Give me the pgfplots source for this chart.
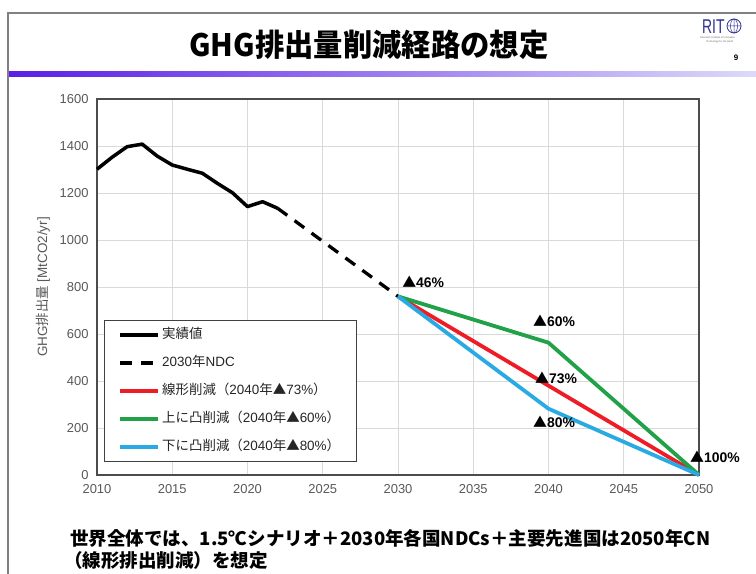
\documentclass[border=0pt]{standalone}
\usepackage{pgfplots}
\pgfplotsset{compat=1.18}
\usepackage{fontspec}
\setmainfont{Liberation Sans}
\newfontfamily\jp{Noto Sans CJK JP}
\definecolor{tickgray}{HTML}{595959}
\definecolor{gridgray}{HTML}{D9D9D9}
\definecolor{cred}{HTML}{EE1C25}
\definecolor{cgreen}{HTML}{21A249}
\definecolor{cblue}{HTML}{2AAAE2}
\definecolor{barL}{HTML}{5A1EE6}
\definecolor{barR}{HTML}{DCDAF8}
\definecolor{logoblue}{HTML}{2E3192}
\begin{document}
\begin{tikzpicture}[x=1bp,y=1bp]
\useasboundingbox (0,0) rectangle (756,574);
\fill[white] (0,0) rectangle (756,574);
% slide frame
\draw[black!50, line width=1.5bp] (8,0) -- (8,561) -- (756,561);
% gradient bar
\shade[left color=barL, right color=barR] (9,497) rectangle (756,502);
% title
\node[anchor=base, font=\jp\bfseries\fontsize{31}{31}\selectfont, xscale=0.95] at (369,517) {GHG排出量削減経路の想定};
% logo
\node[anchor=base west, text=logoblue, font=\fontsize{20}{20}\selectfont, inner sep=0pt, xscale=0.7] at (702,540) {RIT};
\draw[logoblue, line width=0.8bp] (734,548) circle (7);
\draw[logoblue, line width=0.5bp] (727,548) -- (741,548) (734,541) -- (734,555) (734,548) ellipse (3.5 and 7);
\node[anchor=base west, text=black!60, font=\fontsize{2.5}{3}\selectfont, inner sep=0pt] at (700,535) {Research Institute of Innovative};
\node[anchor=base west, text=black!60, font=\fontsize{2.5}{3}\selectfont, inner sep=0pt] at (706,531) {Technology for the Earth};
\node[anchor=base, font=\bfseries\fontsize{8}{8}\selectfont, inner sep=0pt] at (736,513) {9};
% bottom text
\node[anchor=base west, inner sep=0pt, font=\jp\bfseries\fontsize{18.6}{19}\selectfont] at (70,28) {世界全体では、1.5℃シナリオ＋2030年各国NDCs＋主要先進国は2050年CN};
\node[anchor=base west, inner sep=0pt, font=\jp\bfseries\fontsize{18.6}{19}\selectfont] at (64,6) {（線形排出削減）を想定};
\begin{axis}[
  at={(97bp,99bp)}, anchor=south west,
  scale only axis, width=602bp, height=376bp,
  xmin=2010, xmax=2050, ymin=0, ymax=1600,
  clip=false,
  xtick={2010,2015,...,2050}, ytick={0,200,...,1600},
  /pgf/number format/assume math mode=true,
  /pgf/number format/1000 sep={},
  major tick length=0pt,
  grid=major,
  major grid style={gridgray, line width=0.9bp},
  axis line style={black!70, line width=1.4bp},
  tick label style={tickgray, font=\fontsize{13}{13}\selectfont},
  xticklabel style={yshift=-6bp},
  yticklabel style={xshift=-5bp},
  ylabel={GHG{\jp 排出量} [MtCO2/yr]},
  ylabel style={tickgray, font=\fontsize{13.5}{13.5}\selectfont, at={(axis description cs:-0.09,0.5)}, anchor=center},
  legend cell align=left,
  legend image code/.code={\draw[#1, line cap=butt] (0bp,0bp) -- (38bp,0bp);},
  legend style={at={(0.0116,0.412)}, anchor=north west, draw=black!75, line width=0.9bp, fill=white,
    font=\fontsize{13.5}{13.5}\selectfont, inner xsep=14bp, inner ysep=8bp, row sep=15bp,
    nodes={inner xsep=2bp, inner ysep=0bp, text height=10bp, text depth=3bp, text=black!85}},
]
\addplot[black, line width=3.5bp, line join=round] coordinates {
(2010,1301) (2011,1352) (2012,1397) (2013,1408) (2014,1357) (2015,1319) (2016,1301)
(2017,1284) (2018,1241) (2019,1201) (2020,1142) (2021,1163) (2022,1135)};
\addlegendentry{\jp 実績値}
\addplot[black, line width=3.3bp, dash pattern=on 12bp off 9bp] coordinates {
(2022,1135) (2030,760)};
\addlegendentry{2030{\jp 年}NDC}
\addplot[cred, line width=3.8bp, line join=round] coordinates {
(2030,760) (2040,380) (2050,0)};
\addlegendentry{{\jp 線形削減（}2040{\jp 年▲}73\%{\jp ）}}
\addplot[cgreen, line width=3.8bp, line join=round] coordinates {
(2030,760) (2040,563) (2050,0)};
\addlegendentry{{\jp 上に凸削減（}2040{\jp 年▲}60\%{\jp ）}}
\addplot[cblue, line width=3.8bp, line join=round] coordinates {
(2030,760) (2040,282) (2050,0)};
\addlegendentry{{\jp 下に凸削減（}2040{\jp 年▲}80\%{\jp ）}}
\node[anchor=west, inner sep=0pt, font=\bfseries\fontsize{14}{14}\selectfont] at (axis cs:2030.27,821) {{\jp ▲}46\%};
\node[anchor=west, inner sep=0pt, font=\bfseries\fontsize{14}{14}\selectfont] at (axis cs:2038.97,655) {{\jp ▲}60\%};
\node[anchor=west, inner sep=0pt, font=\bfseries\fontsize{14}{14}\selectfont] at (axis cs:2039.1,413) {{\jp ▲}73\%};
\node[anchor=west, inner sep=0pt, font=\bfseries\fontsize{14}{14}\selectfont] at (axis cs:2038.97,225) {{\jp ▲}80\%};
\node[anchor=west, inner sep=0pt, font=\bfseries\fontsize{14}{14}\selectfont] at (axis cs:2049.4,77) {{\jp ▲}100\%};
\end{axis}
\end{tikzpicture}
\end{document}
